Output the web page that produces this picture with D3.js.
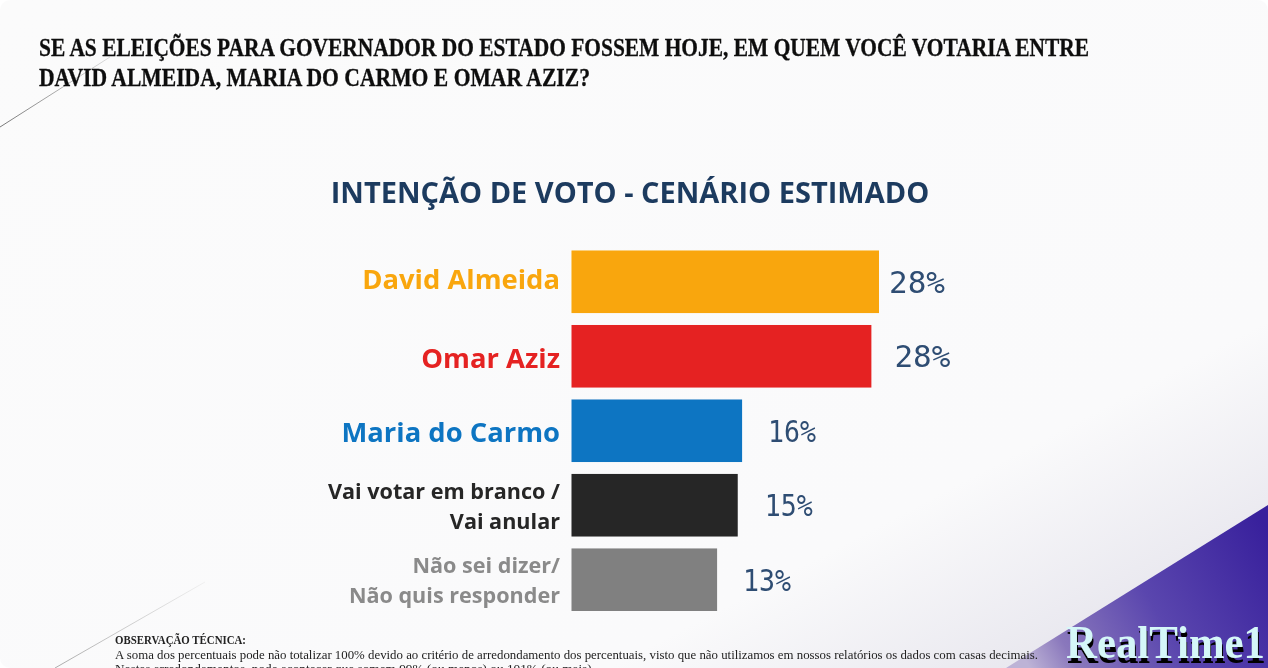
<!DOCTYPE html>
<html lang="pt-BR">
<head>
<meta charset="utf-8">
<script src="https://cdn.jsdelivr.net/npm/d3@7"></script>
<style>
  html, body { margin: 0; padding: 0; background: #fff; overflow: hidden; }
  svg { display: block; }
</style>
</head>
<body>
<svg id="chart" width="1268" height="668"></svg>
<script>
// bar lengths, the printed labels are rounded
const candidates = ["David Almeida", "Omar Aziz", "Maria do Carmo", "Vai votar em branco", "Não sei dizer"];
const labelLines = [
  ["David Almeida"],
  ["Omar Aziz"],
  ["Maria do Carmo"],
  ["Vai votar em branco /", "Vai anular"],
  ["Não sei dizer/", "Não quis responder"],
];
const barValues = [28.3, 27.6, 15.7, 15.3, 13.4];
const valueLabels = ["28%", "28%", "16%", "15%", "13%"];
const barColors = ["#f9a60b", "#e52421", "#0f75c2", "#262626", "#808080"];
const labelColors = ["#f9a60b", "#e52421", "#0f75c2", "#262626", "#8a8a8a"];

const questionLines = [
  "SE AS ELEIÇÕES PARA GOVERNADOR DO ESTADO FOSSEM HOJE, EM QUEM VOCÊ VOTARIA ENTRE",
  "DAVID ALMEIDA, MARIA DO CARMO E OMAR AZIZ?",
];
const chartTitle = "INTENÇÃO DE VOTO - CENÁRIO ESTIMADO";
const noteTitle = "OBSERVAÇÃO TÉCNICA:";
const noteLines = [
  "A soma dos percentuais pode não totalizar 100% devido ao critério de arredondamento dos percentuais, visto que não utilizamos em nossos relatórios os dados com casas decimais.",
  "Nestes arredondamentos, pode acontecer que somem 99% (ou menos) ou 101% (ou mais).",
];
const brand = "RealTime1";

const svg = d3.select("#chart");
const defs = svg.append("defs");

const bg = defs.append("linearGradient").attr("id", "bg")
  .attr("x1", 0).attr("y1", 0).attr("x2", 1).attr("y2", 1);
bg.append("stop").attr("offset", "0%").attr("stop-color", "#fbfbfb");
bg.append("stop").attr("offset", "74%").attr("stop-color", "#fafafb");
bg.append("stop").attr("offset", "90%").attr("stop-color", "#e9e8ef");
bg.append("stop").attr("offset", "100%").attr("stop-color", "#d8d6e4");

const wedge = defs.append("linearGradient").attr("id", "wedge")
  .attr("gradientUnits", "userSpaceOnUse")
  .attr("x1", 1268).attr("y1", 530).attr("x2", 1030).attr("y2", 668);
wedge.append("stop").attr("offset", "0%").attr("stop-color", "#38209c");
wedge.append("stop").attr("offset", "50%").attr("stop-color", "#5a46ae");
wedge.append("stop").attr("offset", "85%").attr("stop-color", "#8a78bc");
wedge.append("stop").attr("offset", "100%").attr("stop-color", "#bdb3d6");

const fade1 = defs.append("linearGradient").attr("id", "fade1")
  .attr("gradientUnits", "userSpaceOnUse")
  .attr("x1", 0).attr("y1", 127).attr("x2", 110).attr("y2", 57);
fade1.append("stop").attr("offset", "0%").attr("stop-color", "#777");
fade1.append("stop").attr("offset", "100%").attr("stop-color", "#ddd");

const fade2 = defs.append("linearGradient").attr("id", "fade2")
  .attr("gradientUnits", "userSpaceOnUse")
  .attr("x1", 50).attr("y1", 668).attr("x2", 205).attr("y2", 582);
fade2.append("stop").attr("offset", "0%").attr("stop-color", "#aaa");
fade2.append("stop").attr("offset", "100%").attr("stop-color", "#f0f0f0");

defs.append("filter").attr("id", "soft")
  .append("feGaussianBlur").attr("stdDeviation", 0.4);

const logoShadow = defs.append("filter").attr("id", "logoShadow")
  .attr("x", "-5%").attr("y", "-10%").attr("width", "110%").attr("height", "130%");
logoShadow.append("feDropShadow")
  .attr("dx", 1).attr("dy", 5).attr("stdDeviation", 0.4).attr("flood-color", "#000");

// slide background with rounded corners, white behind it
svg.append("rect").attr("width", 1268).attr("height", 668).attr("rx", 10).attr("fill", "url(#bg)");

svg.append("line").attr("x1", 0).attr("y1", 127).attr("x2", 110).attr("y2", 57)
  .attr("stroke", "url(#fade1)").attr("stroke-width", 1);
svg.append("line").attr("x1", 55).attr("y1", 668).attr("x2", 205).attr("y2", 582)
  .attr("stroke", "url(#fade2)").attr("stroke-width", 1);

svg.append("path").attr("d", "M1268,505L1268,668L1006,668Z").attr("fill", "url(#wedge)");

const soft = svg.append("g").attr("filter", "url(#soft)");

// question
soft.append("g").selectAll("text").data(questionLines).enter().append("text")
  .attr("x", 39)
  .attr("y", (d, i) => 56 + i * 29.5)
  .attr("font-family", "'Liberation Serif', serif")
  .attr("font-weight", 700)
  .attr("font-size", 24.5)
  .attr("textLength", (d, i) => (i === 0 ? 1050 : 551))
  .attr("lengthAdjust", "spacingAndGlyphs")
  .attr("fill", "#111")
  .attr("stroke", "#111")
  .attr("stroke-width", 0.3)
  .text((d) => d);

soft.append("text")
  .attr("x", 630).attr("y", 203)
  .attr("text-anchor", "middle")
  .attr("font-family", "'Open Sans', sans-serif")
  .attr("font-weight", 700)
  .attr("font-size", 29)
  .attr("fill", "#1d3a5f")
  .text(chartTitle);

// scales
const x = d3.scaleLinear().domain([0, 28.3]).range([571.5, 879]);
const y = d3.scaleBand().domain(candidates).range([250.5, 611]).paddingInner(0.16);

const rows = soft.append("g").selectAll("g").data(candidates).enter().append("g");

rows.append("rect")
  .attr("x", x(0))
  .attr("y", (d) => y(d))
  .attr("width", (d, i) => x(barValues[i]) - x(0))
  .attr("height", y.bandwidth())
  .attr("fill", (d, i) => barColors[i]);

// category labels, one or two lines right aligned against the bars
const nudge = [-2, 2, 2, 0, 0];
rows.each(function (d, i) {
  const lines = labelLines[i];
  const cy = y(d) + y.bandwidth() / 2 + nudge[i];
  const big = lines.length === 1;
  d3.select(this).selectAll("text.cat").data(lines).enter().append("text")
    .attr("class", "cat")
    .attr("x", 560)
    .attr("y", (t, k) => (big ? cy + 9.5 : cy - 6.5 + k * 30))
    .attr("text-anchor", "end")
    .attr("font-family", "'Open Sans', sans-serif")
    .attr("font-weight", 700)
    .attr("font-size", big ? 27.4 : 21.6)
    .attr("fill", labelColors[i])
    .text((t) => t);
});

// the label gap in the slide is uneven
const labelGaps = [10, 23, 26, 27, 26];
rows.append("text")
  .attr("x", (d, i) => x(barValues[i]) + labelGaps[i])
  .attr("y", (d) => y(d) + y.bandwidth() / 2 + 11)
  .attr("font-family", "'DejaVu Sans Mono', monospace")
  .attr("font-size", 30)
  .attr("textLength", (d, i) => (valueLabels[i][0] === "1" ? 48 : 56))
  .attr("lengthAdjust", "spacingAndGlyphs")
  .attr("fill", "#2f4d73")
  .text((d, i) => valueLabels[i]);

// note
const note = soft.append("g").attr("font-family", "'Liberation Serif', serif").attr("fill", "#222");
note.append("text").attr("x", 115).attr("y", 644)
  .attr("font-weight", 700).attr("font-size", 11.5)
  .attr("textLength", 131).attr("lengthAdjust", "spacingAndGlyphs")
  .text(noteTitle);
note.selectAll("text.line").data(noteLines).enter().append("text")
  .attr("class", "line")
  .attr("x", 115)
  .attr("y", (d, i) => 659 + i * 13.5)
  .attr("font-size", 12)
  .attr("textLength", (d, i) => (i === 0 ? 923 : 480))
  .attr("lengthAdjust", "spacingAndGlyphs")
  .text((d) => d);

// logo, black shadow under a pale cyan face
svg.append("text")
  .attr("x", 1066).attr("y", 658)
  .attr("font-family", "'Liberation Serif', serif")
  .attr("font-weight", 700)
  .attr("font-size", 47)
  .attr("textLength", 199).attr("lengthAdjust", "spacingAndGlyphs")
  .attr("fill", "#d5f7f8")
  .attr("filter", "url(#logoShadow)")
  .text(brand);
</script>
</body>
</html>
